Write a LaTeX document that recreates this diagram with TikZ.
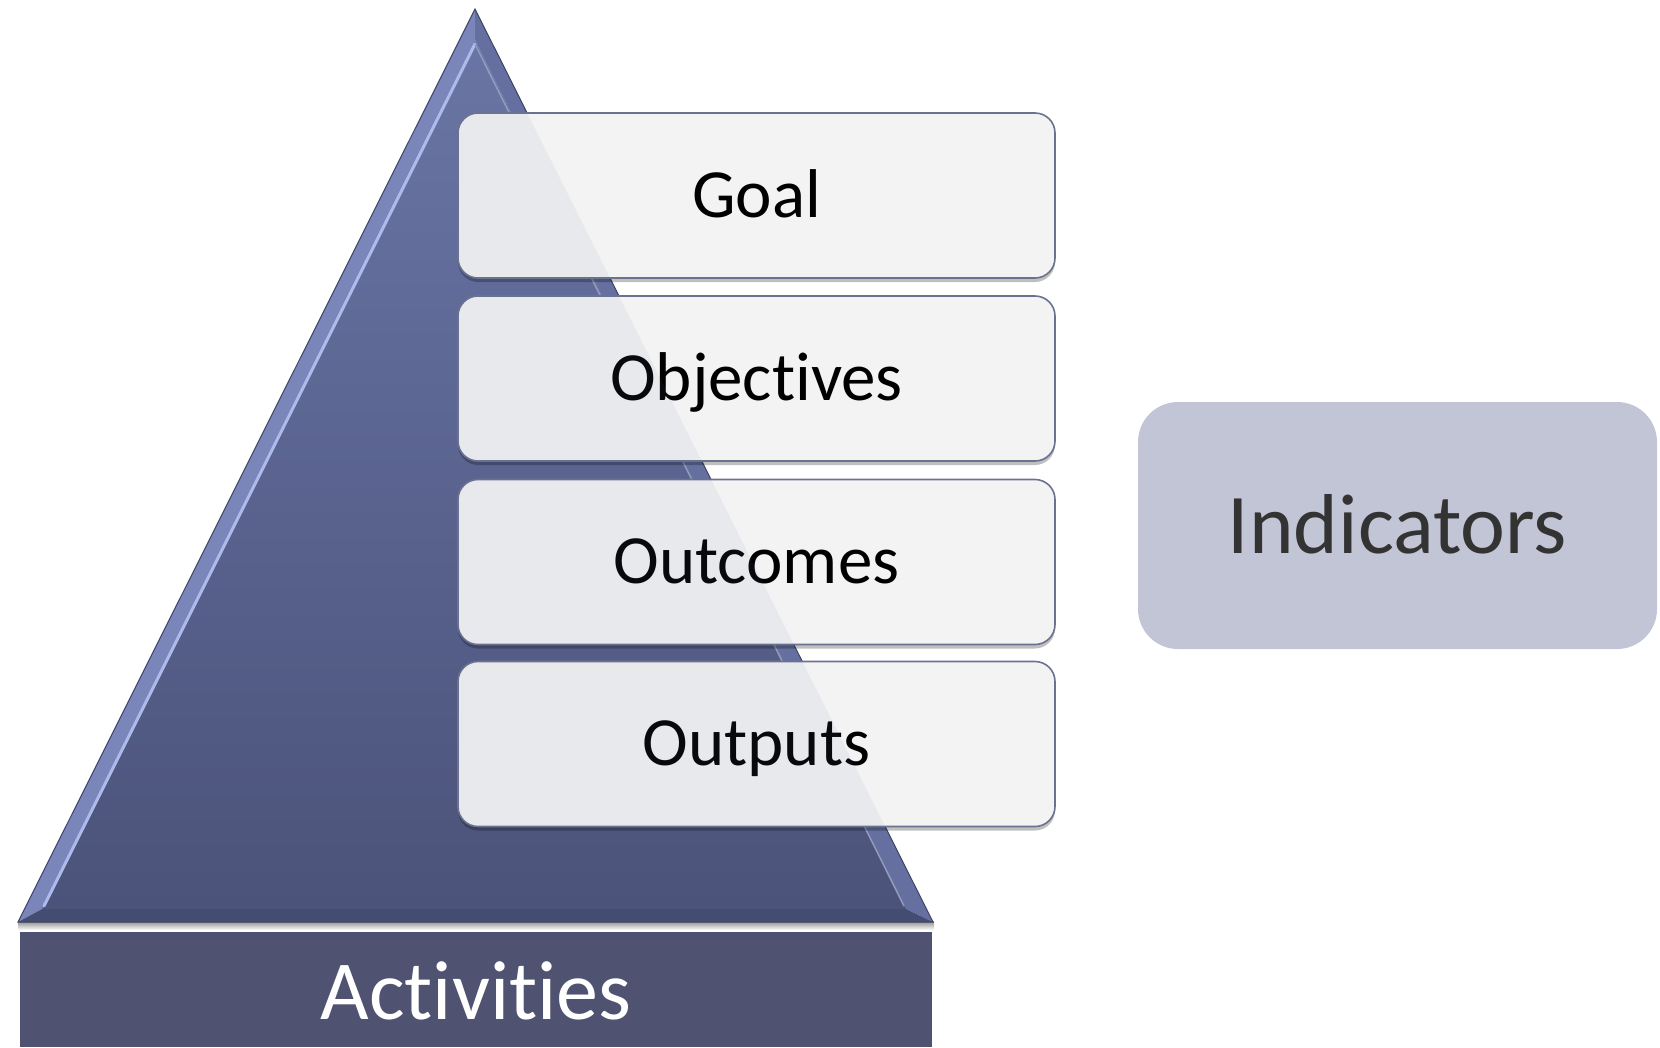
\documentclass[tikz,border=0pt]{standalone}
\usepackage{fontspec}
\setmainfont[Ligatures=NoCommon]{Carlito}
\usetikzlibrary{shadows}
\definecolor{triTop}{HTML}{6A75A5}
\definecolor{triBot}{HTML}{4B537A}
\definecolor{faceL}{HTML}{7A85B9}
\definecolor{faceR}{HTML}{6570A0}
\definecolor{faceB}{HTML}{454C72}
\definecolor{hiLine}{HTML}{AEBAEC}
\definecolor{triEdge}{HTML}{3D4363}
\definecolor{barCol}{HTML}{4F5270}
\definecolor{boxFill}{HTML}{F3F3F3}
\definecolor{boxEdge}{HTML}{6B7290}
\definecolor{indFill}{HTML}{C2C5D5}
\definecolor{indText}{HTML}{333333}
\tikzset{
  levelbox/.style={draw=boxEdge, line width=1.6pt, fill=boxFill,
    rounded corners=20pt, minimum width=597pt, minimum height=165pt, inner sep=0pt,
    font=\fontsize{69}{80}\selectfont, text=black, text height=50pt, text depth=7pt,
    drop shadow={shadow xshift=0pt, shadow yshift=-4pt, opacity=0.25, fill=black}},
  indbox/.style={fill=indFill, rounded corners=40pt, minimum width=519pt, minimum height=247pt,
    inner sep=0pt, font=\fontsize{85}{96}\selectfont, text=indText, text height=62pt, text depth=7pt},
  basebar/.style={fill=barCol, minimum width=912pt, minimum height=115pt, inner sep=0pt,
    font=\fontsize{84}{96}\selectfont, text=white, text height=64pt, text depth=4pt}
}
\begin{document}
\begin{tikzpicture}[x=1pt,y=-1pt]
\useasboundingbox (0,0) rectangle (1660,1047);
% shadow under triangle
\shade[top color=black!45, bottom color=white] (18,921) rectangle (934,930);
% triangle faces
\fill[faceL] (475,9) -- (18,922) -- (42,909) -- (475,40) -- cycle;
\fill[faceR] (475,9) -- (933,922) -- (906,909) -- (475,40) -- cycle;
\fill[faceB] (18,922) -- (933,922) -- (906,909) -- (42,909) -- cycle;
\shade[top color=triTop, bottom color=triBot] (475,40) -- (42,909) -- (906,909) -- cycle;
\draw[hiLine, line width=3pt, line cap=round] (475,44) -- (44,906);
\draw[faceR!70!white, line width=1.5pt] (475,44) -- (904,906);
\draw[triEdge, line width=1pt, line join=miter] (475,9) -- (18,922) -- (933,922) -- cycle;
% base bar
\node[basebar] (act) at (476,989.5) {Activities};
% level boxes
\node[levelbox] (goal) at (756.5,195.5) {Goal};
\node[levelbox] (obj) at (756.5,378.5) {Objectives};
\node[levelbox] (outc) at (756.5,562) {Outcomes};
\node[levelbox] (outp) at (756.5,744) {Outputs};
% faint triangle seen through the boxes
\begin{scope}
  \clip[rounded corners=19pt]
    (goal.south west) rectangle (goal.north east)
    (obj.south west) rectangle (obj.north east)
    (outc.south west) rectangle (outc.north east)
    (outp.south west) rectangle (outp.north east);
  \fill[triTop, opacity=0.08] (475,9) -- (18,922) -- (933,922) -- cycle;
\end{scope}
% indicators
\node[indbox] (ind) at (1397.5,525.5) {Indicators};
\end{tikzpicture}
\end{document}
